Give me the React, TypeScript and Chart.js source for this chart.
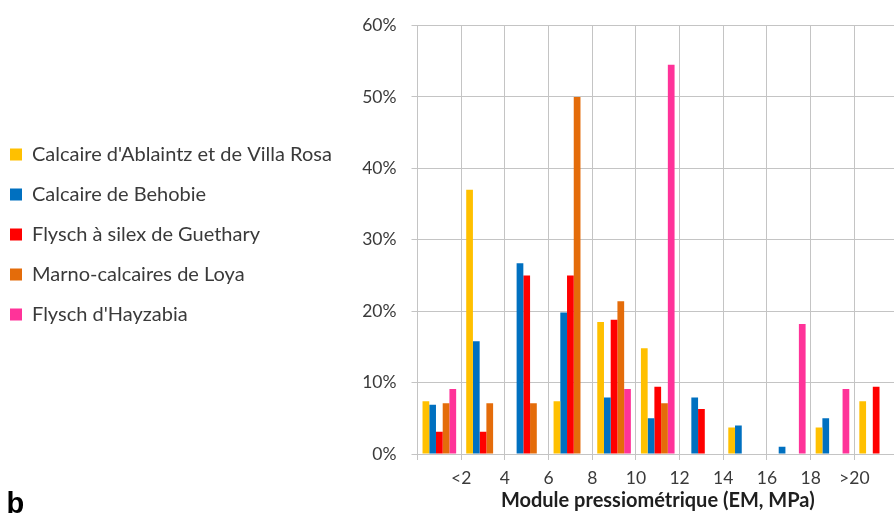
import React, { useEffect, useRef } from 'react';
import { Chart, registerables } from 'chart.js';

Chart.register(...registerables);

// Category bins of the pressuremeter modulus (EM, MPa)
const categories = ['0–2', '2–4', '4–6', '6–8', '8–10', '10–12', '12–14', '14–16', '16–18', '18–20', '>20'];
// Labels shown at the bin boundaries
const tickLabels = ['<2', '4', '6', '8', '10', '12', '14', '16', '18', '>20'];

const seriesNames = [
  "Calcaire d'Ablaintz et de Villa Rosa",
  'Calcaire de Behobie',
  'Flysch à silex de Guethary',
  'Marno-calcaires de Loya',
  "Flysch d'Hayzabia",
];

// Percentages per bin
const ablaintz = [7.4, 37.0, 0, 7.4, 18.5, 14.8, 0, 3.7, 0, 3.7, 7.4];
const behobie = [6.9, 15.8, 26.7, 19.8, 7.9, 5.0, 7.9, 4.0, 1.0, 5.0, 0];
const guethary = [3.1, 3.1, 25.0, 25.0, 18.8, 9.4, 6.3, 0, 0, 0, 9.4];
const loya = [7.1, 7.1, 7.1, 50.0, 21.4, 7.1, 0, 0, 0, 0, 0];
const hayzabia = [9.1, 0, 0, 0, 9.1, 54.5, 0, 0, 18.2, 9.1, 0];

const seriesColors = ['#FFC000', '#0070C0', '#FF0000', '#E46C0A', '#FF3399'];

const yTicks = { min: 0, max: 60, step: 10 };

const SHIFT = 10;
const CANVAS_W = 908;
const CANVAS_H = 518;
const PLOT_LEFT = 427.5;
const GRID = '#c4c4c4';
const TEXT = '#3a3a3a';

export default function App() {
  const ref = useRef<HTMLCanvasElement>(null);

  useEffect(() => {
    document.body.style.margin = '0';
    const canvas = ref.current!;
    const values = [ablaintz, behobie, guethary, loya, hayzabia];
    const chart = new Chart(canvas, {
      type: 'bar',
      data: {
        labels: categories,
        datasets: values.map((d, i) => ({
          label: seriesNames[i],
          data: d,
          backgroundColor: seriesColors[i],
          borderWidth: 0,
          xAxisID: 'x',
          yAxisID: 'y',
          categoryPercentage: 0.77,
          barPercentage: 1.0,
        })),
      },
      options: {
        responsive: false,
        animation: false,
        devicePixelRatio: 1,
        layout: { padding: { top: 18, left: 0, right: 0, bottom: 0 } },
        plugins: {
          legend: {
            position: 'left',
            fullSize: false,
            align: 'start',
            maxWidth: 600,
            title: {
              display: true,
              text: '',
              font: { family: 'Lato', size: 10, lineHeight: 1.2 },
              padding: { top: 87, bottom: 0 },
            },
            labels: {
              boxWidth: 12,
              boxHeight: 12,
              padding: 20,
              color: TEXT,
              font: { family: 'Lato', size: 20 },
            },
          },
          tooltip: { enabled: false },
        },
        scales: {
          x: {
            type: 'category',
            position: 'bottom',
            weight: 0,
            offset: true,
            grid: { offset: true, color: GRID, tickLength: 6, drawTicks: true },
            border: { display: true, color: GRID },
            ticks: { display: false, padding: 0 },
          },
          x2: {
            type: 'linear',
            axis: 'x',
            position: 'bottom',
            weight: 1,
            offset: false,
            min: 0,
            max: categories.length,
            grid: { display: false, drawTicks: true, tickLength: 8, offset: false },
            border: { display: false },
            ticks: {
              stepSize: 1,
              autoSkip: false,
              maxRotation: 0,
              padding: 0,
              color: TEXT,
              font: { family: 'Lato', size: 17.5 },
              callback: (v: any) => tickLabels[Number(v) - 1] ?? '',
            },
            title: {
              display: true,
              text: 'Module pressiométrique (EM, MPa)',
              color: '#1f1f1f',
              font: { family: 'Lato', size: 20, weight: 'bold' },
              padding: { top: 0, bottom: 5 },
            },
            afterFit: (a: any) => {
              a.height = 58;
            },
          },
          y: {
            position: 'left',
            min: yTicks.min,
            max: yTicks.max,
            grid: { color: GRID, tickLength: 6 },
            border: { display: true, color: GRID },
            ticks: {
              stepSize: yTicks.step,
              padding: 15,
              color: TEXT,
              font: { family: 'Lato', size: 17.5 },
              callback: (v: any) => `${v}%`,
            },
            afterFit: (a: any) => {
              const lw = a.chart.legend ? a.chart.legend.width : 0;
              a.width = PLOT_LEFT - lw;
            },
          },
        },
      } as any,
    });
    return () => chart.destroy();
  }, []);

  return (
    <div style={{ position: 'relative', width: 894, height: 518, overflow: 'hidden', background: '#fff' }}>
      <canvas
        ref={ref}
        width={CANVAS_W}
        height={CANVAS_H}
        style={{ position: 'absolute', left: -SHIFT, top: 0, width: CANVAS_W, height: CANVAS_H }}
      />
      <div
        style={{
          position: 'absolute',
          left: 6.5,
          top: 489,
          fontFamily: '"Liberation Sans", Arial, sans-serif',
          fontWeight: 'bold',
          fontSize: 29,
          lineHeight: 1,
          color: '#000',
        }}
      >
        b
      </div>
    </div>
  );
}
